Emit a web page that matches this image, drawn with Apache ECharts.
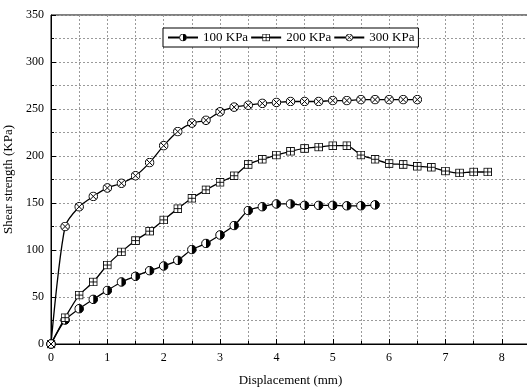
<!DOCTYPE html>
<html>
  <head>
    <meta charset="utf-8" />
    <title>Shear strength vs displacement</title>
    <script src="https://cdn.jsdelivr.net/npm/echarts@6/dist/echarts.min.js"></script>
    <style>
      html, body { margin: 0; padding: 0; background: #fff; }
    </style>
  </head>
  <body>
    <div id="chart" style="width: 527px; height: 388px;"></div>
    <script type="text/javascript">
      // values
      var names = ['100 KPa', '200 KPa', '300 KPa'];
      var disp100 = [0, 0.25, 0.5, 0.75, 1, 1.25, 1.5, 1.75, 2, 2.25, 2.5, 2.75, 3, 3.25, 3.5, 3.75, 4, 4.25, 4.5, 4.75, 5, 5.25, 5.5, 5.75];
      var shear100 = [0, 25.5, 37.5, 47.5, 57, 66, 72, 78, 83, 89, 100.5, 107, 116, 126, 142, 146, 149, 149, 147.5, 147.5, 147.5, 147, 147, 148];
      var disp200 = [0, 0.25, 0.5, 0.75, 1, 1.25, 1.5, 1.75, 2, 2.25, 2.5, 2.75, 3, 3.25, 3.5, 3.75, 4, 4.25, 4.5, 4.75, 5, 5.25, 5.5, 5.75, 6, 6.25, 6.5, 6.75, 7, 7.25, 7.5, 7.75];
      var shear200 = [0, 28, 52, 66, 84, 98, 110, 120, 132, 144, 155, 164, 172, 179, 191, 196.5, 201, 205, 208, 209.5, 211, 211, 201, 196.5, 192, 191, 189, 188, 184, 182, 183, 183];
      var disp300 = [0, 0.25, 0.5, 0.75, 1, 1.25, 1.5, 1.75, 2, 2.25, 2.5, 2.75, 3, 3.25, 3.5, 3.75, 4, 4.25, 4.5, 4.75, 5, 5.25, 5.5, 5.75, 6, 6.25, 6.5];
      var shear300 = [0, 125, 146, 157, 166, 171, 179, 193, 211, 226, 235, 238, 247, 252, 254, 256, 257, 258, 258, 258, 259, 259, 260, 260, 260, 260, 260];

      function svgSymbol(body) {
        var svg = "<svg xmlns='http://www.w3.org/2000/svg' width='20' height='20' viewBox='0 0 20 20'>" + body + "</svg>";
        return 'image://data:image/svg+xml;charset=utf-8,' + encodeURIComponent(svg);
      }
      // half filled circle, crossed square, crossed circle
      var symHalf = svgSymbol("<circle cx='10' cy='10' r='8.6' fill='#fff' stroke='#000' stroke-width='2'/><path d='M10 1.4 A8.6 8.6 0 0 1 10 18.6 Z' fill='#000'/>");
      var symSquare = svgSymbol("<rect x='1.5' y='1.5' width='17' height='17' fill='#fff' stroke='#000' stroke-width='2'/><path d='M10 1.5 V18.5 M1.5 10 H18.5' stroke='#000' stroke-width='2'/>");
      var symCross = svgSymbol("<circle cx='10' cy='10' r='8.6' fill='#fff' stroke='#000' stroke-width='2'/><path d='M4 4 L16 16 M16 4 L4 16' stroke='#000' stroke-width='2'/>");

      function pairs(xs, ys) {
        var out = [];
        for (var i = 0; i < xs.length; i++) out.push([xs[i], ys[i]]);
        return out;
      }

      var font = '"Liberation Serif", "Times New Roman", serif';
      var gridLine = { show: true, lineStyle: { color: '#9a9a9a', type: [2, 2], width: 1 } };

      function makeSeries(name, data, symbol, size) {
        return {
          name: name,
          type: 'line',
          data: data,
          symbol: symbol,
          symbolSize: size,
          showAllSymbol: true,
          smooth: 0.25,
          lineStyle: { color: '#000', width: 1.3 },
          itemStyle: { color: '#000' },
          z: 3
        };
      }

      var chart = echarts.init(document.getElementById('chart'));
      chart.setOption({
        animation: false,
        backgroundColor: '#fff',
        textStyle: { fontFamily: font, color: '#000' },
        grid: {
          left: 51, right: -3, top: 15, bottom: 44,
          outerBoundsMode: 'none',
          containLabel: false,
          show: true, borderColor: '#000', borderWidth: 1, backgroundColor: 'transparent'
        },
        legend: {
          left: 163,
          top: 28,
          orient: 'horizontal',
          itemWidth: 30,
          itemHeight: 10,
          itemGap: 2,
          padding: [3, 4],
          borderColor: '#000',
          borderWidth: 1,
          backgroundColor: '#fff',
          textStyle: { fontFamily: font, fontSize: 13, color: '#000' },
          data: names
        },
        xAxis: {
          type: 'value',
          min: 0,
          max: 8.5,
          interval: 1,
          name: 'Displacement (mm)',
          nameLocation: 'middle',
          nameGap: 30,
          nameTextStyle: { fontFamily: font, fontSize: 13, color: '#000' },
          axisLine: { lineStyle: { color: '#000', width: 1 } },
          axisTick: { inside: true, length: 5, lineStyle: { color: '#000' } },
          minorTick: { show: true, splitNumber: 2, length: 3, lineStyle: { color: '#000' } },
          axisLabel: {
            fontFamily: font, fontSize: 12, color: '#000', margin: 8,
            formatter: function (v) { return v % 1 === 0 ? String(v) : ''; }
          },
          splitLine: gridLine,
          minorSplitLine: gridLine
        },
        yAxis: {
          type: 'value',
          min: 0,
          max: 350,
          interval: 50,
          name: 'Shear strength (KPa)',
          nameLocation: 'middle',
          nameGap: 32,
          nameTextStyle: { fontFamily: font, fontSize: 13, color: '#000' },
          axisLine: { show: true, lineStyle: { color: '#000', width: 1 } },
          axisTick: { show: true, inside: true, length: 5, lineStyle: { color: '#000' } },
          minorTick: { show: true, splitNumber: 2, length: 3, lineStyle: { color: '#000' } },
          axisLabel: { fontFamily: font, fontSize: 12, color: '#000', margin: 7 },
          splitLine: gridLine,
          minorSplitLine: gridLine
        },
        series: [
          makeSeries(names[0], pairs(disp100, shear100), symHalf, 10),
          makeSeries(names[1], pairs(disp200, shear200), symSquare, 9),
          makeSeries(names[2], pairs(disp300, shear300), symCross, 10)
        ]
      });
    </script>
  </body>
</html>
